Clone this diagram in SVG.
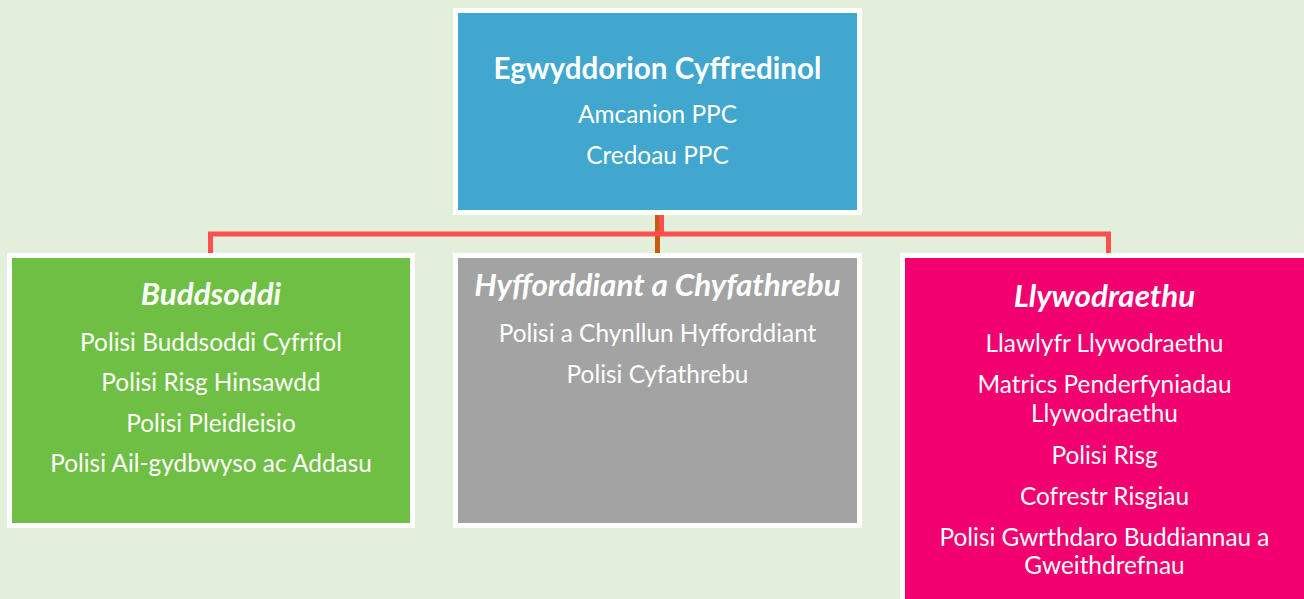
<svg xmlns="http://www.w3.org/2000/svg" width="1304" height="599" viewBox="0 0 1304 599">
<style>
.bg{fill:#E2EFDA}
.frame{fill:#FFFFFF}
.t{font-family:Lato,"Open Sans","Liberation Sans",sans-serif;fill:#FFFFFF;text-anchor:middle}
.h{font-weight:bold;font-size:29.6px}
.hi{font-weight:bold;font-style:italic;font-size:31.4px}
.b{font-size:24.4px}
.red{stroke:#FF5050;stroke-width:5;fill:none}
.org{stroke:#C55A11;stroke-width:5;fill:none}
</style>
<rect class="bg" x="0" y="0" width="1304" height="599"/>
<g id="connectors">
<line class="org" x1="657.5" y1="215" x2="657.5" y2="253"/>
<line class="red" x1="661.5" y1="215" x2="661.5" y2="234"/>
<line class="red" x1="208" y1="234" x2="1111" y2="234"/>
<line class="red" x1="210.5" y1="234" x2="210.5" y2="253"/>
<line class="red" x1="1108.5" y1="234" x2="1108.5" y2="253"/>
<line class="org" x1="657.5" y1="236.5" x2="657.5" y2="253"/>
</g>
<g id="node-egwyddorion">
<rect class="frame" x="453" y="8" width="409" height="207"/>
<rect x="458" y="13" width="399" height="197" fill="#41A7CE"/>
<text class="t h" x="657.5" y="79">Egwyddorion Cyffredinol</text>
<text class="t b" x="657.5" y="123">Amcanion PPC</text>
<text class="t b" x="657.5" y="164">Credoau PPC</text>
</g>
<g id="node-buddsoddi">
<rect class="frame" x="7" y="253" width="408" height="275"/>
<rect x="12" y="258" width="398" height="265" fill="#6EBF43"/>
<text class="t hi" x="211" y="305">Buddsoddi</text>
<text class="t b" x="211" y="350.5">Polisi Buddsoddi Cyfrifol</text>
<text class="t b" x="211" y="391">Polisi Risg Hinsawdd</text>
<text class="t b" x="211" y="431.5">Polisi Pleidleisio</text>
<text class="t b" x="211" y="472">Polisi Ail-gydbwyso ac Addasu</text>
</g>
<g id="node-hyfforddiant">
<rect class="frame" x="453" y="253" width="409" height="275"/>
<rect x="458" y="258" width="399" height="265" fill="#A3A3A3"/>
<text class="t hi" x="657.5" y="296">Hyfforddiant a Chyfathrebu</text>
<text class="t b" x="657.5" y="342">Polisi a Chynllun Hyfforddiant</text>
<text class="t b" x="657.5" y="382.5">Polisi Cyfathrebu</text>
</g>
<g id="node-llywodraethu">
<rect class="frame" x="900" y="253" width="409" height="360"/>
<rect x="905" y="258" width="399" height="350" fill="#F2006F"/>
<text class="t hi" x="1104.5" y="307">Llywodraethu</text>
<text class="t b" x="1104.5" y="352">Llawlyfr Llywodraethu</text>
<text class="t b" x="1104.5" y="392.5">Matrics Penderfyniadau</text>
<text class="t b" x="1104.5" y="421.5">Llywodraethu</text>
<text class="t b" x="1104.5" y="463.5">Polisi Risg</text>
<text class="t b" x="1104.5" y="504.5">Cofrestr Risgiau</text>
<text class="t b" x="1104.5" y="545.5">Polisi Gwrthdaro Buddiannau a</text>
<text class="t b" x="1104.5" y="573.5">Gweithdrefnau</text>
</g>
</svg>
